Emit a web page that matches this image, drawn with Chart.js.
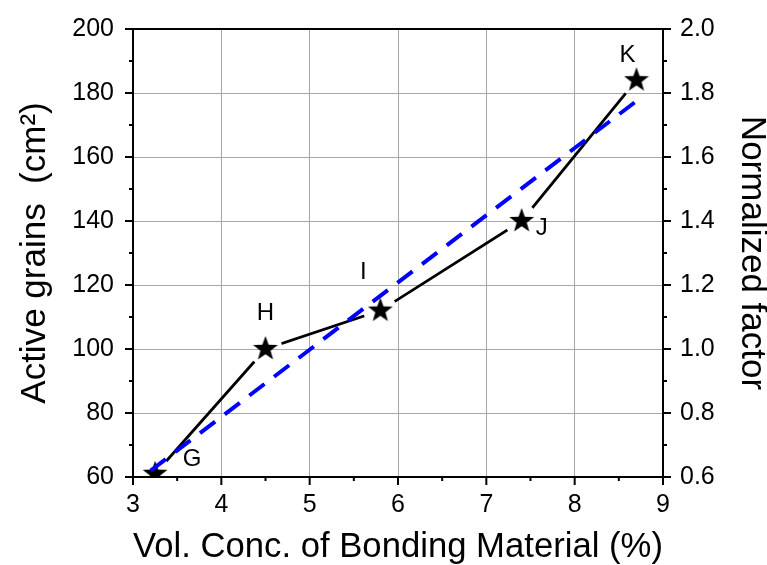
<!DOCTYPE html>
<html>
<head>
<meta charset="utf-8">
<script src="https://cdn.jsdelivr.net/npm/chart.js@4.4.1/dist/chart.umd.min.js"></script>
<style>
  html, body { margin: 0; padding: 0; background: #fff; }
  canvas { display: block; }
</style>
</head>
<body>
<canvas id="chart" width="767" height="565"></canvas>
<script>
const conc = [3.25, 4.5, 5.8, 7.4, 8.7];
const grains = [61, 100, 112, 140, 184];
const pointNames = ['G', 'H', 'I', 'J', 'K'];
const fitX = [3.2, 8.7];
const fitY = [62, 177.5];

const FONT = '"Liberation Sans", Arial, sans-serif';

// filled 5-point star as an image marker
function makeStar(r) {
  const c = document.createElement('canvas');
  const s = Math.ceil(r * 2 + 2);
  c.width = s; c.height = s;
  const g = c.getContext('2d');
  g.beginPath();
  for (let i = 0; i < 10; i++) {
    const rad = i % 2 === 0 ? r : r * 0.41;
    const a = -Math.PI / 2 + i * Math.PI / 5;
    g.lineTo(s / 2 + rad * Math.cos(a), s / 2 + rad * Math.sin(a));
  }
  g.closePath();
  g.fillStyle = '#000';
  g.fill();
  return c;
}
const star = makeStar(13);

// gaps in the black line around each marker
const gapPlugin = {
  id: 'gaps',
  beforeDatasetDraw(chart, args) {
    if (args.index !== 0) return;
    const ctx = chart.ctx;
    const meta = chart.getDatasetMeta(1);
    ctx.save();
    ctx.beginPath();
    ctx.rect(0, 0, chart.width, chart.height);
    meta.data.forEach(p => {
      ctx.moveTo(p.x + 17, p.y);
      ctx.arc(p.x, p.y, 17, 0, Math.PI * 2);
    });
    ctx.clip('evenodd');
  },
  afterDatasetDraw(chart, args) {
    if (args.index === 0) chart.ctx.restore();
  }
};

const offsets = [[37, -14], [0, -36], [-17, -38], [20, 7], [-9, -25]];

const framePlugin = {
  id: 'frame',
  afterDraw(chart) {
    const ctx = chart.ctx;
    const a = chart.chartArea;
    ctx.save();
    ctx.strokeStyle = '#000';
    ctx.lineWidth = 2;
    ctx.beginPath();
    ctx.moveTo(a.left, a.top);
    ctx.lineTo(a.right, a.top);
    ctx.stroke();

    // major + minor tick marks
    const x = chart.scales.x, y = chart.scales.y, y2 = chart.scales.y2;
    function marks(scale, draw) {
      const t = scale.ticks.map(k => k.value);
      t.forEach((v, i) => {
        draw(scale.getPixelForValue(v), 8);
        if (i < t.length - 1) draw(scale.getPixelForValue((v + t[i + 1]) / 2), 4);
      });
    }
    ctx.beginPath();
    marks(x, (px, l) => { ctx.moveTo(px, a.bottom); ctx.lineTo(px, a.bottom + l); });
    marks(y, (py, l) => { ctx.moveTo(a.left, py); ctx.lineTo(a.left - l, py); });
    marks(y2, (py, l) => { ctx.moveTo(a.right, py); ctx.lineTo(a.right + l, py); });
    ctx.stroke();

    // point letters
    const meta = chart.getDatasetMeta(1);
    ctx.fillStyle = '#000';
    ctx.font = '24px ' + FONT;
    ctx.textAlign = 'center';
    ctx.textBaseline = 'middle';
    meta.data.forEach((p, i) => {
      ctx.fillText(pointNames[i], p.x + offsets[i][0], p.y + offsets[i][1]);
    });
    ctx.restore();
  }
};

function fixV(w) {
  return s => { s.width = w; s.paddingTop = 0; s.paddingBottom = 0; };
}

new Chart(document.getElementById('chart'), {
  type: 'scatter',
  data: {
    datasets: [
      {
        data: conc.map((v, i) => ({ x: v, y: grains[i] })),
        showLine: true,
        borderColor: '#000',
        borderWidth: 2.8,
        pointRadius: 0,
        order: 3
      },
      {
        data: conc.map((v, i) => ({ x: v, y: grains[i] })),
        showLine: false,
        pointStyle: star,
        pointRadius: 13,
        order: 2
      },
      {
        data: fitX.map((v, i) => ({ x: v, y: fitY[i] })),
        showLine: true,
        borderColor: '#0000ff',
        borderWidth: 4,
        borderDash: [19, 12],
        pointRadius: 0,
        order: 1
      }
    ]
  },
  options: {
    responsive: false,
    animation: false,
    events: [],
    layout: { padding: { top: 29, left: 0, right: 0, bottom: 0 } },
    plugins: { legend: { display: false }, tooltip: { enabled: false } },
    scales: {
      x: {
        min: 3, max: 9,
        afterFit(s) { s.height = 88; s.paddingLeft = 0; s.paddingRight = 0; },
        ticks: { stepSize: 1, color: '#000', font: { family: FONT, size: 25 }, padding: 13 },
        grid: { color: '#a8a8a8', lineWidth: 1, drawTicks: false },
        border: { color: '#000', width: 2 },
        title: { display: true, text: 'Vol. Conc. of Bonding Material (%)', color: '#000',
                 font: { family: FONT, size: 35, lineHeight: 1 }, padding: { top: 5, bottom: 0 } }
      },
      y: {
        min: 60, max: 200,
        afterFit: fixV(133),
        ticks: { stepSize: 20, color: '#000', font: { family: FONT, size: 25 }, padding: 19 },
        grid: { color: '#a8a8a8', lineWidth: 1, drawTicks: false },
        border: { color: '#000', width: 2 },
        title: { display: true, text: 'Active grains  (cm²)', color: '#000',
                 font: { family: FONT, size: 35, lineHeight: 1 }, padding: { top: 18, bottom: 0 } }
      },
      y2: {
        position: 'right',
        min: 0.6, max: 2.0,
        afterFit: fixV(104),
        ticks: { stepSize: 0.2, color: '#000', font: { family: FONT, size: 25 }, padding: 17,
                 callback: v => v.toFixed(1) },
        grid: { drawOnChartArea: false, drawTicks: false },
        border: { color: '#000', width: 2 },
        title: { display: true, text: 'Normalized factor', color: '#000',
                 font: { family: FONT, size: 35, lineHeight: 1 }, padding: { top: -2, bottom: 0 } }
      }
    }
  },
  plugins: [gapPlugin, framePlugin]
});
</script>
</body>
</html>
